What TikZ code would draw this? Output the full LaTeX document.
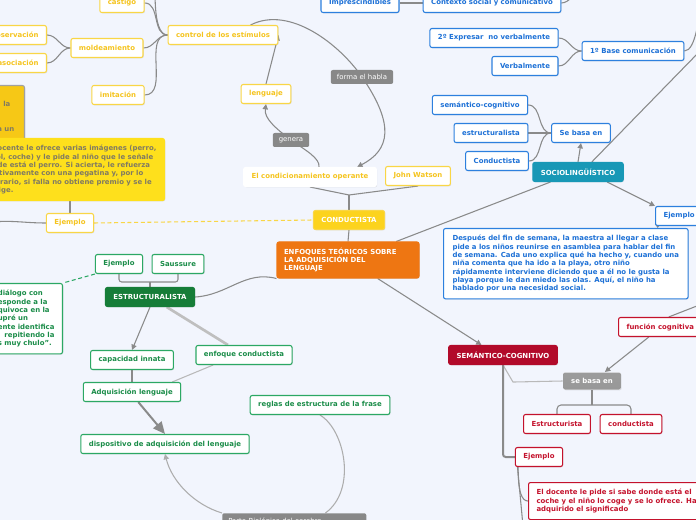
\documentclass[tikz,border=0pt]{standalone}
\usepackage{fontspec}
\setmainfont{DejaVu Sans}
\usepackage{tikz}
\usetikzlibrary{arrows.meta,shadows}
\pgfdeclarelayer{back}
\pgfsetlayers{back,main}

\definecolor{bgpage}{RGB}{242,245,253}
\definecolor{ytxt}{RGB}{245,196,30}
\definecolor{yline}{RGB}{249,214,70}
\definecolor{yfill}{RGB}{252,211,30}
\definecolor{ynote}{RGB}{254,224,28}
\definecolor{ydark}{RGB}{246,200,22}
\definecolor{notetxt}{RGB}{128,122,98}
\definecolor{orng}{RGB}{238,118,18}
\definecolor{btxt}{RGB}{28,112,214}
\definecolor{bline}{RGB}{45,128,222}
\definecolor{sociofill}{RGB}{24,152,182}
\definecolor{gtxt}{RGB}{26,140,72}
\definecolor{gline}{RGB}{44,168,100}
\definecolor{gfill}{RGB}{22,125,56}
\definecolor{rtxt}{RGB}{196,18,44}
\definecolor{rfill}{RGB}{178,10,42}
\definecolor{conn}{RGB}{138,138,138}
\definecolor{lblfill}{RGB}{136,136,136}

\begin{document}
\begin{tikzpicture}[x=0.75pt,y=0.75pt,yscale=-1,xscale=1,
  font=\fontsize{5.2}{6.25}\selectfont\bfseries,
  nodebox/.style={rounded corners=1.5pt,line width=0.8pt,fill=white,minimum height=14.25pt,inner xsep=6pt,inner ysep=0pt,
    drop shadow={shadow xshift=0.6pt,shadow yshift=-0.6pt,opacity=0.18}},
  ybox/.style={nodebox,draw=yline,text=ytxt},
  bbox/.style={nodebox,draw=bline,text=btxt},
  gbox/.style={nodebox,draw=gline,text=gtxt},
  rbox/.style={nodebox,draw=rtxt,text=rtxt},
  notebox/.style={nodebox,align=left,inner ysep=5pt},
  lbl/.style={rounded corners=1.5pt,fill=lblfill,text=white,font=\fontsize{5.2}{6.25}\selectfont,minimum height=10.5pt,inner xsep=4.5pt,inner ysep=0pt},
  wire/.style={draw=conn,line width=0.8pt},
  arrowtip/.style={-{Triangle[length=4pt,width=4pt]}},
]
\useasboundingbox (0,0) rectangle (696,520);

% conductista branch
\node[ybox] (castigo) at (122,3) {castigo};
\node[ybox] (ctrl) at (223,35) {control de los estímulos};
\node[ybox] (molde) at (107,48) {moldeamiento};
\node[ybox,anchor=east] (obs) at (47,35) {observación};
\node[ybox,anchor=east] (asoc) at (47,63) {asociación};
\node[ybox] (imit) at (118,95) {imitación};
\node[ybox] (leng) at (266,94) {lenguaje};
\node[ybox,draw=white] (condop) at (310,177) {El condicionamiento operante};
\node[ybox] (watson) at (418,176) {John Watson};
\node[ybox,fill=yfill,text=white] (conduct) at (349,220) {CONDUCTISTA};
\node[ybox] (yej) at (70,223) {Ejemplo};
\node[nodebox,draw=conn!80,fill=ydark,anchor=north east,minimum width=64pt,minimum height=47pt] (ydk) at (25,85) {};
\node[text=notetxt,anchor=west,inner sep=0pt] (ydka) at (3,104) {la};
\node[text=notetxt,anchor=west,inner sep=0pt] (ydkb) at (-3,130) {a un};
\node[notebox,draw=ynote,fill=ynote,text=notetxt,anchor=north east] (ynote) at (165,138)
  {El docente le ofrece varias imágenes (perro,\\árbol, coche) y le pide al niño que le señale\\dónde está el perro. Si acierta, le refuerza\\positivamente con una pegatina y, por lo\\contrario, si falla no obtiene premio y se le\\corrige.};
\node[lbl] (forma) at (362,77) {forma el habla};
\node[lbl] (genera) at (291,140) {genera};
\coordinate (jc) at (349,195);
\coordinate (ctrlup) at (154,-6);
\coordinate (yejl) at (-8,222);

% main
\node[nodebox,draw=orng,fill=orng,text=white,align=left,text width=96pt,inner xsep=5.25pt,minimum height=27pt] (enfoques) at (348,260)
  {ENFOQUES TEÓRICOS SOBRE\\LA ADQUISICIÓN DEL\\LENGUAJE};

% sociolinguistico branch
\node[bbox] (imp) at (360,3) {Imprescindibles};
\node[bbox] (ctx) at (492,3) {Contexto social y comunicativo};
\node[bbox] (base1) at (633,51) {1º Base comunicación};
\node[bbox] (expr) at (494,38) {2º Expresar\ \ no verbalmente};
\node[bbox] (verb) at (525,66) {Verbalmente};
\node[bbox] (sebasa) at (581,133) {Se basa en};
\node[bbox] (semc) at (480,105) {semántico-cognitivo};
\node[bbox] (estr) at (491,133) {estructuralista};
\node[bbox] (condu) at (497,161) {Conductista};
\node[bbox,draw=sociofill,fill=sociofill,text=white] (socio) at (578,172) {SOCIOLINGÜÍSTICO};
\node[bbox,anchor=west] (bej) at (655,216) {Ejemplo};
\node[notebox,draw=bline,text=btxt,anchor=north west,inner xsep=6.75pt] (btext) at (443,228)
  {Después del fin de semana, la maestra al llegar a clase\\pide a los niños reunirse en asamblea para hablar del fin\\de semana. Cada uno explica qué ha hecho y, cuando una\\niña comenta que ha ido a la playa, otro niño\\rápidamente interviene diciendo que a él no le gusta la\\playa porque le dan miedo las olas. Aquí, el niño ha\\hablado por una necesidad social.};
\coordinate (b1up) at (700,24);
\coordinate (ctxup) at (582,-6);
\coordinate (soup) at (702,49);

% semantico-cognitivo branch
\node[rbox,anchor=west] (fcog) at (618,327) {función cognitiva};
\node[rbox,fill=rfill,draw=rfill,text=white] (sem) at (503,355) {SEMÁNTICO-COGNITIVO};
\node[nodebox,draw=none,top color=conn!85,bottom color=conn!110!black,text=white,minimum height=12.75pt] (rbasa) at (592,381) {se basa en};
\node[rbox] (estruc) at (557,424) {Estructurista};
\node[rbox] (rcond) at (631,424) {conductista};
\node[rbox] (rej) at (539,457) {Ejemplo};
\node[notebox,draw=rtxt,text=rtxt,anchor=north west] (rtext) at (528,482)
  {El docente le pide si sabe donde está el\\coche y el niño lo coge y se lo ofrece. Ha\\adquirido el significado};
\coordinate (btup) at (702,304);
\coordinate (rb) at (592,405);
\coordinate (rejdn) at (523,526);

% estructuralista branch
\node[gbox,fill=gfill,draw=gfill,text=white] (estrl) at (150,297) {ESTRUCTURALISTA};
\node[gbox] (gej) at (119,264) {Ejemplo};
\node[gbox] (sauss) at (178,264) {Saussure};
\node[notebox,draw=gline,text=gtxt,anchor=north east] (gnote) at (63,283)
  {diálogo con\\esponde a la\\quivoca en la\\upré un\\ente identifica\\\hspace*{5pt}repitiendo la\\s muy chulo".};
\node[gbox] (innata) at (132,360) {capacidad innata};
\node[gbox] (enfc) at (244,355) {enfoque conductista};
\node[gbox] (adq) at (132,392) {Adquisición lenguaje};
\node[gbox] (disp) at (165,444) {dispositivo de adquisición del lenguaje};
\node[gbox] (reglas) at (320,405) {reglas de estructura de la frase};
\node[lbl,anchor=north west,align=left,text width=99pt,minimum height=13pt] (parte) at (222,513) {Parte Biológica del cerebro};
\coordinate (gb) at (150,282);

\begin{pgfonlayer}{back}
\fill[bgpage] (0,0) rectangle (696,520);
% conductista links
\draw[wire] (castigo.east) to[out=0,in=180] (ctrl.west);
\draw[wire] (molde.east) to[out=0,in=180] (ctrl.west);
\draw[wire] (imit.east) to[out=0,in=180] (ctrl.west);
\draw[wire] (ctrlup) to[out=-80,in=180] (ctrl.west);
\draw[wire] (obs.east) to[out=0,in=180] (molde.west);
\draw[wire] (asoc.east) to[out=0,in=180] (molde.west);
\draw[wire,arrowtip] (leng.north) -- (ctrl.east);
\draw[wire,arrowtip] (ctrl.20) .. controls (290,5) and (340,45) .. (forma.center) .. controls (395,125) and (390,150) .. (condop.12);
\draw[wire,arrowtip] (condop.48) .. controls (320,158) and (305,150) .. (genera.center) .. controls (275,128) and (264,118) .. (leng.south);
\draw[wire] (condop.south) -- (jc) -- (watson.south);
\draw[wire] (jc) -- (conduct.north);
\draw[wire] (conduct.south) -- (enfoques.north);
\draw[wire,draw=yline,dash pattern=on 3pt off 2pt] (yej.east) -- (conduct.west);
\draw[wire] (yej.north) -- (yej.north |- ynote.south);
\draw[wire] (yej.west) to[out=180,in=-5] (yejl);
% sociolinguistico links
\draw[wire] (enfoques.21) -- (socio.200);
\draw[wire,arrowtip] (socio.north) -- (sebasa.south);
\draw[wire] (semc.east) to[out=0,in=180] (sebasa.west);
\draw[wire] (estr.east) to[out=0,in=180] (sebasa.west);
\draw[wire] (condu.east) to[out=0,in=180] (sebasa.west);
\draw[wire] (expr.east) to[out=0,in=180] (base1.west);
\draw[wire] (verb.east) to[out=0,in=180] (base1.west);
\draw[wire] (base1.east) to[out=0,in=-100] (b1up);
\draw[wire] (imp.east) -- (ctx.west);
\draw[wire] (ctx.east) to[out=0,in=200] (ctxup);
\draw[wire] (socio.36) -- (soup);
\draw[wire,arrowtip] (socio.-19) -- (bej.north west);
\draw[wire,-{Triangle[length=3pt,width=4pt]}] ([xshift=2pt]bej.south west) -- ([xshift=2pt]bej.south west |- btext.north);
% semantico links
\draw[wire] (btup) -- (fcog.50);
\draw[wire,arrowtip] (fcog.221) -- (rbasa.35);
\draw[wire,arrowtip] (enfoques.328) -- (sem.155);
\draw[wire,draw=conn!60] (sem.south) -- ++(10,17) -- (rbasa.west);
\draw[wire,line width=1.5pt,rounded corners=2pt] (sem.south) |- (rej.west);
\draw[wire] (rbasa.south) -- (rb);
\draw[wire,rounded corners=3pt] (estruc.north) |- (rb) -| (rcond.north);
\draw[wire] (rej.205) to[out=-80,in=180] (rtext.west);
\draw[wire] (rej.205) -- (rejdn);
% estructuralista links
\draw[wire] (estrl.east) to[out=-3,in=195] (enfoques.south west);
\draw[wire,rounded corners=2pt] (gej.south) |- (gb) -| (sauss.south);
\draw[wire] (gb) -- (estrl.north);
\draw[wire,draw=gline,dash pattern=on 3pt off 2pt] (gej.south west) -- (gnote.north east);
\draw[wire,arrowtip] (estrl.south) -- (innata.north);
\draw[wire,draw=conn!55,line width=2pt] (estrl.329) -- (enfc.148);
\draw[wire] (innata.south) -- (adq.north);
\draw[wire,draw=conn!60] (enfc.198) -- (adq.14);
\draw[wire,line width=1.5pt,-{Triangle[length=9pt,width=8pt]}] (adq.302) -- (disp.north);
\draw[wire,draw=conn!70] (reglas.south) .. controls (345,430) and (357,490) .. (parte.16);
\draw[wire,draw=conn!70,arrowtip] (parte.north west) .. controls (195,505) and (172,482) .. (disp.south);
\end{pgfonlayer}

\end{tikzpicture}
\end{document}
